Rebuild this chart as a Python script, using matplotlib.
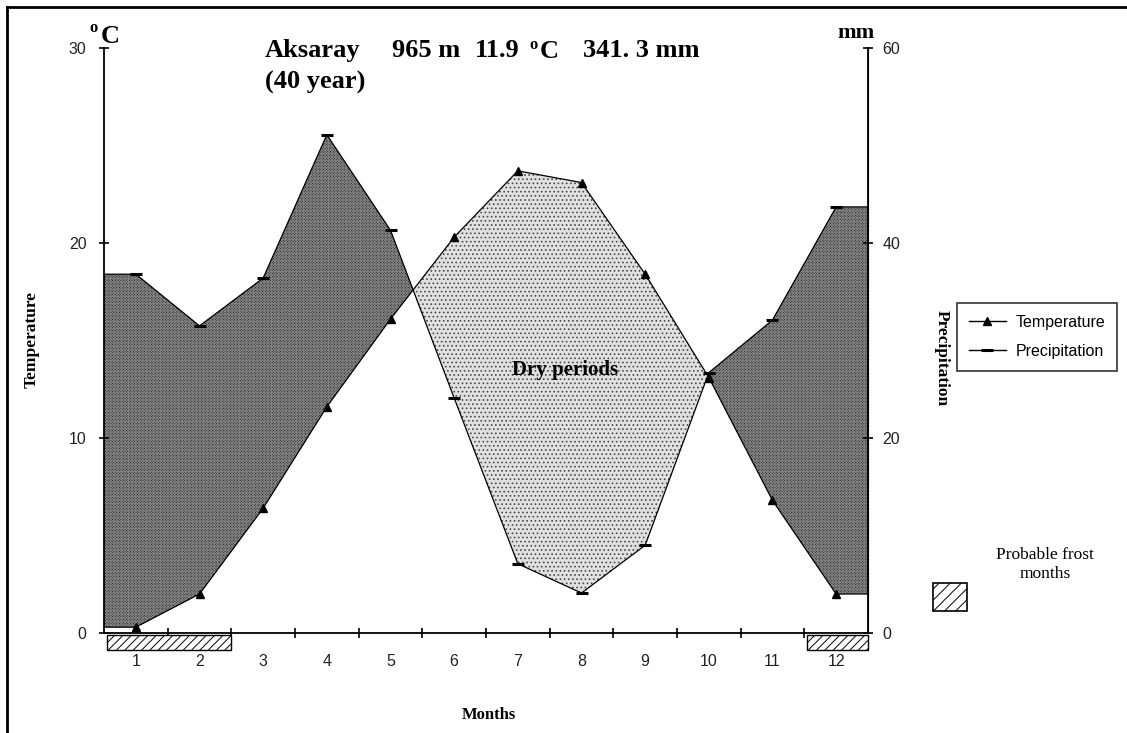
import numpy as np
import matplotlib
matplotlib.use("Agg")
import matplotlib.pyplot as plt
from matplotlib.patches import Rectangle
from matplotlib.lines import Line2D
from matplotlib.ticker import FixedLocator, NullFormatter, FixedFormatter

# ---------------- data ----------------
months = [1, 2, 3, 4, 5, 6, 7, 8, 9, 10, 11, 12]
month_labels = ["1", "2", "3", "4", "5", "6", "7", "8", "9", "10", "11", "12"]
temperature = [0.3, 2.0, 6.4, 11.6, 16.1, 20.3, 23.7, 23.1, 18.4, 13.1, 6.8, 2.0]      # degC
precipitation = [36.8, 31.5, 36.4, 51.1, 41.3, 24.1, 7.1, 4.1, 9.0, 26.7, 32.1, 43.7]  # mm
frost_runs = [[1, 2], [12]]
temp_ticks = [0, 10, 20, 30]
precip_ticks = [0, 20, 40, 60]

W, H = 1127, 733
plt.rcParams["hatch.linewidth"] = 0.7
fig = plt.figure(figsize=(W / 100, H / 100), dpi=100)

def fx(px):
    return px / W

def fy(py):
    return 1 - py / H

ax = fig.add_axes([fx(104), fy(633), fx(868) - fx(104), fy(48) - fy(633)])
ax2 = ax.twinx()

ax.set_xlim(0.5, 12.5)
ax.set_ylim(temp_ticks[0], temp_ticks[-1])
ax2.set_ylim(precip_ticks[0], precip_ticks[-1])
ratio = (precip_ticks[-1] - precip_ticks[0]) / (temp_ticks[-1] - temp_ticks[0])

t = np.array(temperature, dtype=float)
p = np.array(precipitation, dtype=float)
xe = np.concatenate([[0.5], months, [12.5]])
te = np.concatenate([[t[0]], t, [t[-1]]])
pe = np.concatenate([[p[0]], p, [p[-1]]]) / ratio

# humid (dark) and dry (light) periods
ax.fill_between(xe, te, pe, where=pe >= te, interpolate=True,
                facecolor="#222222", edgecolor="#808080", hatch="x" * 12, linewidth=0, zorder=1)
ax.fill_between(xe, te, pe, where=te >= pe, interpolate=True,
                facecolor="#e0e0e0", edgecolor="#4a4a4a", hatch="....", linewidth=0, zorder=1)

# boundary lines
ax.plot(xe, te, color="black", lw=0.9, zorder=3)
ax2.plot(xe, pe * ratio, color="black", lw=0.9, zorder=3)
ax.plot(months, temperature, linestyle="none", marker="^", color="black", markersize=6, zorder=4)
ax2.plot(months, precipitation, linestyle="none", marker="_", color="black", markersize=8,
         markeredgewidth=2.2, zorder=4)

# frost months bars below the axis
for run in frost_runs:
    x0 = run[0] - 0.46
    x1 = run[-1] + 0.5
    ax.add_patch(Rectangle((x0, -0.12), x1 - x0, -0.75, facecolor="white", edgecolor="black",
                           hatch="////", linewidth=1.0, clip_on=False, zorder=5))

# axes styling
tick_col = "#222222"
for a in (ax, ax2):
    a.spines["top"].set_visible(False)
    a.patch.set_visible(False)
for s in ("left", "bottom"):
    ax.spines[s].set_linewidth(1.3)
ax2.spines["right"].set_linewidth(1.3)
ax2.spines["left"].set_visible(False)
ax2.spines["bottom"].set_visible(False)

ax.set_yticks(temp_ticks)
ax.set_yticklabels([str(v) for v in temp_ticks])
ax2.set_yticks(precip_ticks)
ax2.set_yticklabels([str(v) for v in precip_ticks])
ax.tick_params(axis="y", direction="inout", length=7, width=1.2, pad=9, labelsize=11.5,
               labelcolor=tick_col, labelfontfamily="Liberation Sans")
ax2.tick_params(axis="y", direction="inout", length=7, width=1.2, pad=7, labelsize=11.5,
                labelcolor=tick_col, labelfontfamily="Liberation Sans")

bounds = np.arange(0.5, 12.6, 1.0)[1:-1]
ax.xaxis.set_major_locator(FixedLocator(bounds))
ax.xaxis.set_major_formatter(NullFormatter())
ax.xaxis.set_minor_locator(FixedLocator(months))
ax.xaxis.set_minor_formatter(FixedFormatter(month_labels))
ax.tick_params(axis="x", which="major", direction="inout", length=7, width=1.2)
ax.tick_params(axis="x", which="minor", length=0, pad=15, labelsize=11.5, labelcolor=tick_col,
               labelfontfamily="Liberation Sans")

# texts
serif = "Liberation Serif"
fig.text(fx(32), fy(340), "Temperature", rotation=90, ha="center", va="center",
         fontsize=12.5, fontweight="bold", family=serif)
fig.text(fx(942), fy(358), "Precipitation", rotation=-90, ha="center", va="center",
         fontsize=12.5, fontweight="bold", family=serif)
fig.text(fx(489), fy(715), "Months", ha="center", va="center",
         fontsize=12, fontweight="bold", family=serif)
fig.text(fx(565), fy(370), "Dry periods", ha="center", va="center",
         fontsize=15, fontweight="bold", family=serif)

tsize = 19
fig.text(fx(265), fy(57), "Aksaray", ha="left", va="baseline", fontsize=tsize, fontweight="bold", family=serif)
fig.text(fx(392), fy(57), "965 m", ha="left", va="baseline", fontsize=tsize, fontweight="bold", family=serif)
fig.text(fx(475), fy(57), "11.9", ha="left", va="baseline", fontsize=tsize, fontweight="bold", family=serif)
fig.text(fx(529), fy(49), "o", ha="left", va="baseline", fontsize=12, fontweight="bold", family=serif)
fig.text(fx(540), fy(58), "C", ha="left", va="baseline", fontsize=tsize, fontweight="bold", family=serif)
fig.text(fx(583), fy(57), "341. 3 mm", ha="left", va="baseline", fontsize=tsize, fontweight="bold", family=serif)
fig.text(fx(265), fy(89), "(40 year)", ha="left", va="baseline", fontsize=tsize, fontweight="bold", family=serif)

fig.text(fx(89), fy(32), "o", ha="left", va="baseline", fontsize=12, fontweight="bold", family=serif)
fig.text(fx(101), fy(43), "C", ha="left", va="baseline", fontsize=19, fontweight="bold", family=serif)
fig.text(fx(837), fy(38), "mm", ha="left", va="baseline", fontsize=16, fontweight="bold", family=serif)

# legend
handles = [Line2D([], [], color="black", lw=1, marker="^", markersize=6),
           Line2D([], [], color="black", lw=1, marker="_", markersize=8, markeredgewidth=2.2)]
leg = fig.legend(handles, ["Temperature", "Precipitation"], loc="upper left",
                 bbox_to_anchor=(fx(957), fy(303)), borderaxespad=0, fancybox=False,
                 frameon=True, prop={"family": "Liberation Sans", "size": 11.5},
                 handlelength=2.3, handletextpad=0.6, borderpad=0.75, labelspacing=0.85)
leg.get_frame().set_edgecolor("black")
leg.get_frame().set_linewidth(1.2)

# frost legend
fig.add_artist(Rectangle((fx(933), fy(611)), fx(967) - fx(933), fy(583) - fy(611),
                         transform=fig.transFigure, facecolor="white", edgecolor="black",
                         hatch="///", linewidth=1.2))
fig.text(fx(1045), fy(555), "Probable frost", ha="center", va="center", fontsize=12.5, family=serif)
fig.text(fx(1045), fy(574), "months", ha="center", va="center", fontsize=12.5, family=serif)

# outer frame (top and left)
fig.add_artist(Line2D([fx(7), 1], [fy(7), fy(7)], transform=fig.transFigure, color="black", lw=2))
fig.add_artist(Line2D([fx(7), fx(7)], [fy(7), 0], transform=fig.transFigure, color="black", lw=2))

fig.savefig("out.png", dpi=100)
